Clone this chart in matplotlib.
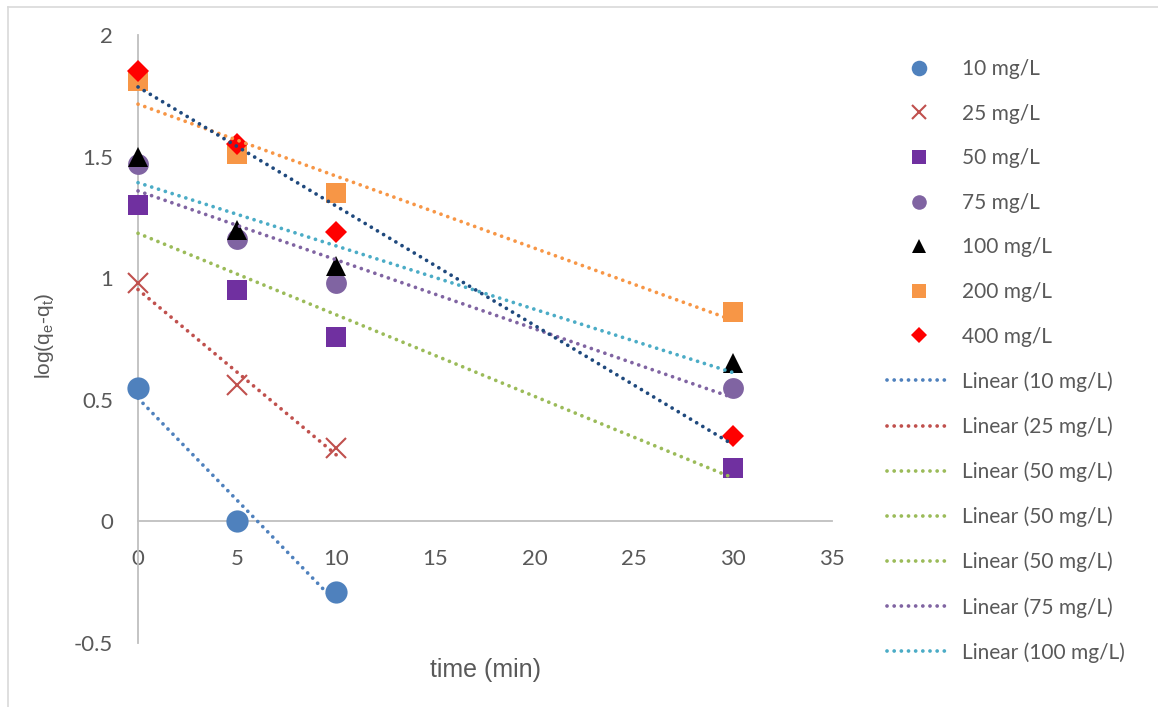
import numpy as np
import matplotlib
matplotlib.use("Agg")
import matplotlib.pyplot as plt
from matplotlib.lines import Line2D

# Data
time_short = [0, 5, 10]
time_long = [0, 5, 10, 30]
y_10 = [0.55, 0.00, -0.29]
y_25 = [0.98, 0.56, 0.30]
y_50 = [1.30, 0.95, 0.76, 0.22]
y_75 = [1.47, 1.16, 0.98, 0.55]
y_100 = [1.50, 1.20, 1.05, 0.65]
y_200 = [1.81, 1.51, 1.35, 0.86]
y_400 = [1.85, 1.55, 1.19, 0.35]

series_labels = ["10 mg/L", "25 mg/L", "50 mg/L", "75 mg/L",
                 "100 mg/L", "200 mg/L", "400 mg/L"]
trend_legend_labels = ["Linear (10 mg/L)", "Linear (25 mg/L)", "Linear (50 mg/L)",
                       "Linear (50 mg/L)", "Linear (50 mg/L)", "Linear (75 mg/L)",
                       "Linear (100 mg/L)"]

TXT = "#595959"
AX = "#BFBFBF"

series = [
    # x, y, marker, marker color, marker size, trendline color
    (time_short, y_10, "o", "#4F81BD", 16, "#4F81BD"),
    (time_short, y_25, "x", "#C0504D", 15, "#C0504D"),
    (time_long, y_50, "s", "#7030A0", 15, "#9BBB59"),
    (time_long, y_75, "o", "#8064A2", 15, "#8064A2"),
    (time_long, y_100, "^", "#000000", 15, "#4BACC6"),
    (time_long, y_200, "s", "#F79646", 15, "#F79646"),
    (time_long, y_400, "D", "#FF0000", 11, "#1F497D"),
]
trend_legend_colors = ["#4F81BD", "#C0504D", "#9BBB59", "#9BBB59", "#9BBB59",
                       "#8064A2", "#4BACC6"]

dots = (0, (0.01, 1.9))
LW = 2.7

fig = plt.figure(figsize=(11.58, 7.07), dpi=100)
ax = fig.add_axes([0.1192, 0.0905, 0.5993, 0.86])

marker_handles = []
for i, (x, y, mk, mc, ms, lc) in enumerate(series):
    if mk == "x":
        h, = ax.plot(x, y, linestyle="none", marker=mk, color=mc, markersize=ms,
                     markeredgewidth=1.5, zorder=3 + i * 0.01, clip_on=False)
    else:
        h, = ax.plot(x, y, linestyle="none", marker=mk, color=mc, markersize=ms,
                     markeredgewidth=0, zorder=3 + i * 0.01, clip_on=False)
    marker_handles.append(h)
    # linear trendline over the data range
    slope, icpt = np.polyfit(x, y, 1)
    xs = np.array([min(x), max(x)])
    ax.plot(xs, icpt + slope * xs, linestyle=dots, color=lc, linewidth=LW,
            dash_capstyle="round", zorder=4, clip_on=False)

ax.set_xlim(0, 35)
ax.set_ylim(-0.5, 2)
ax.set_xticks(np.arange(0, 36, 5))
ax.set_yticks([-0.5, 0, 0.5, 1, 1.5, 2])
ax.set_yticklabels(["-0.5", "0", "0.5", "1", "1.5", "2"])

for side in ["top", "right"]:
    ax.spines[side].set_visible(False)
ax.spines["bottom"].set_position(("data", 0))
ax.spines["bottom"].set_color(AX)
ax.spines["left"].set_color(AX)
ax.spines["bottom"].set_linewidth(1.3)
ax.spines["left"].set_linewidth(1.3)
ax.tick_params(length=0, labelsize=16, labelcolor=TXT)
ax.tick_params(axis="x", pad=20)
ax.tick_params(axis="y", pad=18)
for lbl in ax.get_xticklabels() + ax.get_yticklabels():
    lbl.set_family("Lato")

ax.set_xlabel("time (min)", fontsize=18, color=TXT, family="Liberation Sans")
ax.xaxis.set_label_coords(0.5, -0.025)
ax.set_ylabel("log(q$_\\mathregular{e}$-q$_\\mathregular{t}$)", fontsize=15, color=TXT,
              family="Liberation Sans")
ax.yaxis.set_label_coords(-0.118, 0.505)

trend_handles = [Line2D([0], [0], color=c, linestyle=dots, linewidth=LW,
                        dash_capstyle="round") for c in trend_legend_colors]

leg = fig.legend(marker_handles + trend_handles, series_labels + trend_legend_labels,
                 loc="upper left", bbox_to_anchor=(0.75, 0.943), frameon=False,
                 markerscale=0.7, handlelength=3.0, handletextpad=0.6,
                 labelspacing=1.18, prop={"family": "Lato", "size": 15})
for t in leg.get_texts():
    t.set_color(TXT)

# light chart border
fig.add_artist(Line2D([0.0065, 0.0065], [0, 0.99], color="#D9D9D9", linewidth=1.2,
                      transform=fig.transFigure))
fig.add_artist(Line2D([0.0065, 1], [0.99, 0.99], color="#D9D9D9", linewidth=1.2,
                      transform=fig.transFigure))

fig.savefig("out.png", dpi=100)
